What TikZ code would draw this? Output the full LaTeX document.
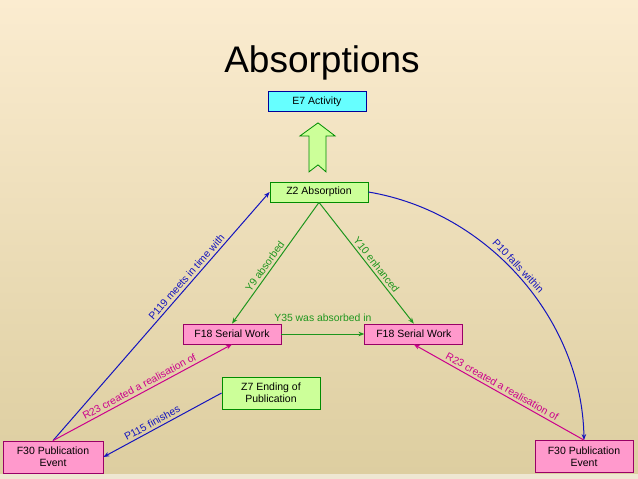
\documentclass[tikz,border=0pt]{standalone}
\usepackage{fontspec}
\setmainfont{Liberation Sans}
\usetikzlibrary{arrows.meta,positioning,calc}
\definecolor{bgtop}{RGB}{251,236,208}
\definecolor{bgbot}{RGB}{221,206,160}
\definecolor{bgstrip}{RGB}{238,231,210}
\definecolor{pinkfill}{RGB}{255,153,204}
\definecolor{pinkbdr}{RGB}{153,0,102}
\definecolor{grnfill}{RGB}{204,255,153}
\definecolor{grnbdr}{RGB}{0,140,0}
\definecolor{cyanfill}{RGB}{102,255,255}
\definecolor{cyanbdr}{RGB}{0,0,153}
\definecolor{blueln}{RGB}{20,20,190}
\definecolor{greenln}{RGB}{30,150,30}
\definecolor{magln}{RGB}{204,0,140}
\tikzset{
  fblk/.style={rectangle,draw=pinkbdr,fill=pinkfill,
    minimum width=98pt,minimum height=20pt,
    font=\fontsize{10.5}{12}\selectfont,align=center,inner sep=1pt,line width=0.8pt},
  zblk/.style={fblk,draw=grnbdr,fill=grnfill},
  eblk/.style={fblk,draw=cyanbdr,fill=cyanfill},
  tallblk/.style={minimum height=32pt},
  barr/.style={-{Stealth[length=6pt,width=4.5pt]},line width=1pt,color=blueln},
  garr/.style={barr,color=greenln},
  marr/.style={barr,color=magln},
  lbl/.style={font=\fontsize{10.4}{12}\selectfont,sloped,above,inner sep=2.5pt},
}
\begin{document}
\begin{tikzpicture}[x=1pt,y=-1pt]
  \shade[top color=bgtop,bottom color=bgbot] (0,0) rectangle (638,474);
  \fill[bgstrip] (0,474) rectangle (638,479);
  \useasboundingbox (0,0) rectangle (638,479);

  \node[anchor=base,font=\fontsize{37}{40}\selectfont] (title) at (322,72) {Absorptions};
  \node[eblk] (e7) at (317,101.5) {E7 Activity};
  \node[zblk] (z2) at (319,192) {Z2 Absorption};
  \node[fblk] (f18a) at (232,334) {F18 Serial Work};
  \node[fblk,right=83pt of f18a] (f18b) {F18 Serial Work};
  \node[zblk,tallblk] (z7) at (271,393) {Z7 Ending of\\Publication};
  \node[fblk,tallblk,minimum width=100pt] (f30a) at (53,457) {F30 Publication\\Event};
  \node[fblk,tallblk] (f30b) at (584,456.5) {F30 Publication\\Event};

  \coordinate (atip) at ($(e7.south)+(1,11)$);
  \draw[grnbdr,fill=grnfill,line width=0.8pt] (atip) -- ++(17,13) -- ++(-9,0) -- ++(0,36)
    -- ++(-8,-7) -- ++(-9,7) -- ++(0,-36) -- ++(-9,0) -- cycle;

  \draw[barr] (f30a.north) -- node[lbl,pos=0.64]{P119 meets in time with} (z2.west);
  \draw[marr] (f30a.north) -- node[lbl]{R23 created a realisation of} (f18a.south);
  \draw[barr] (z7.west) -- node[lbl,pos=0.56]{P115 finishes} (f30a.east);
  \draw[garr] (z2.south) -- node[lbl,pos=0.56]{Y9 absorbed} (f18a.north);
  \draw[garr] (z2.south) -- node[lbl,pos=0.55]{Y10 enhanced} (f18b.north);
  \draw[garr] (f18a.east) -- node[lbl,above=9pt]{Y35 was absorbed in} (f18b.west);
  \draw[barr] (z2.east) .. controls +(120,20) and +(-2,-120) .. node[lbl,pos=0.47]{P10 falls within} (f30b.north);
  \draw[marr] (f30b.north) -- node[lbl]{R23 created a realisation of} (f18b.south);
\end{tikzpicture}
\end{document}
